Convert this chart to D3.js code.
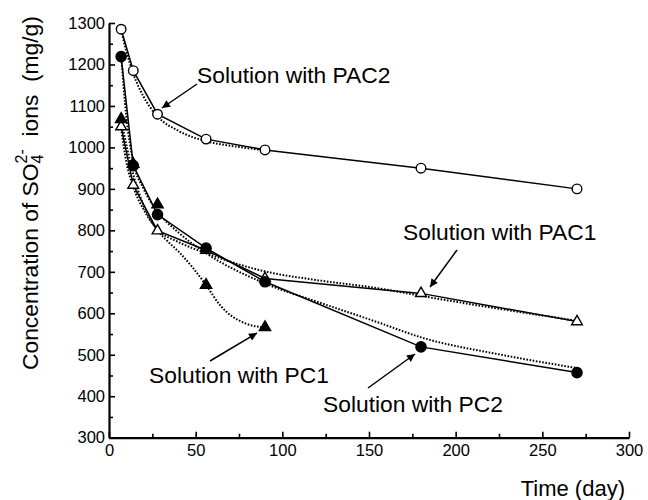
<!DOCTYPE html>
<html>
<head>
<meta charset="utf-8">
<script src="https://cdn.jsdelivr.net/npm/d3@7"></script>
<style>
  html, body { margin: 0; padding: 0; background: #fff; }
  svg { display: block; }
  text { font-family: "Liberation Sans", Arial, Helvetica, sans-serif; fill: #000; }
</style>
</head>
<body>
<svg id="chart" width="648" height="500"></svg>
<script>
// Sampling days
const days = [7, 14, 28, 56, 90, 180, 270];

// Measured SO4(2-) concentration (mg/g)
const pac2 = [1285, 1185, 1080, 1020, 994, 950, 900];
const pc2  = [1219, 956, 838, 757, 676, 519, 457];
const pac1 = [1050, 909, 799, 752, 684, 648, 580];
const pc1  = [1068, 960, 862, 668, 566];
const pc1Days = [7, 14, 28, 56, 90];

// Fitted trend curves (dotted), as [day, value]
const pac2Fit = [[7,1283],[10,1232],[14,1178],[20,1122],[28,1075],[40,1040],[56,1015],[75,1001],[90,993]];
const pc2Fit  = [[7,1222],[10,1075],[14,965],[20,900],[28,845],[40,795],[56,745],[90,672],[120,628],[156,577],[180,542],[225,501],[270,468]];
const pac1Fit = [[7,1046],[10,965],[14,905],[20,850],[28,802],[40,772],[56,745],[90,701],[120,680],[156,660],[180,642],[225,611],[270,582]];
const pc1Fit  = [[7,1068],[14,935],[20,860],[28,800],[33,777],[41,745],[56,668],[64,620],[79,575],[90,566]];

// Axis ticks
const xTicks = [0, 50, 100, 150, 200, 250, 300];
const xMinor = [25, 75, 125, 175, 225, 275];
const yTicks = [300, 400, 500, 600, 700, 800, 900, 1000, 1100, 1200, 1300];
const yMinor = [350, 450, 550, 650, 750, 850, 950, 1050, 1150, 1250];

// Callout labels
const labels = ["Solution with PAC2", "Solution with PAC1", "Solution with PC1", "Solution with PC2"];

const svg = d3.select("#chart");
const x = d3.scaleLinear().domain([0, 300]).range([109, 629]);
const y = d3.scaleLinear().domain([300, 1300]).range([437.7, 23]);
const fmt = d3.format("d");

// ---- axes ----
const xAxisG = svg.append("g").attr("transform", `translate(0,${y(300)})`)
  .call(d3.axisBottom(x).tickValues(xTicks).tickFormat(fmt).tickSizeInner(-6).tickSizeOuter(0).tickPadding(7));
const xMinorG = svg.append("g").attr("transform", `translate(0,${y(300)})`)
  .call(d3.axisBottom(x).tickValues(xMinor).tickSizeInner(-4).tickSizeOuter(0).tickFormat(""));
const yAxisG = svg.append("g").attr("transform", `translate(${x(0)},0)`)
  .call(d3.axisLeft(y).tickValues(yTicks).tickFormat(fmt).tickSizeInner(-6).tickSizeOuter(0).tickPadding(4));
const yMinorG = svg.append("g").attr("transform", `translate(${x(0)},0)`)
  .call(d3.axisLeft(y).tickValues(yMinor).tickSizeInner(-4).tickSizeOuter(0).tickFormat(""));

[xAxisG, yAxisG, xMinorG, yMinorG].forEach(g => {
  g.attr("font-family", null);
  g.select(".domain").attr("stroke", "#000").attr("stroke-width", 2.2);
  g.selectAll(".tick line").attr("stroke", "#000").attr("stroke-width", 1.6);
  g.selectAll(".tick text").attr("font-size", 16.5).attr("fill", "#000");
});
xMinorG.select(".domain").remove();
yMinorG.select(".domain").remove();

// ---- axis titles ----
svg.append("text").attr("x", 625).attr("y", 496).attr("text-anchor", "end")
  .attr("font-size", 22).text("Time (day)");

const yt = svg.append("text")
  .attr("transform", "translate(37.5,370) rotate(-90)")
  .attr("font-size", 22.8)
  .attr("xml:space", "preserve");
yt.append("tspan").text("Concentration of SO");
yt.append("tspan").attr("font-size", 16).attr("dy", 5).text("4");
yt.append("tspan").attr("font-size", 16).attr("dx", -8.9).attr("dy", -16).text("2-");
yt.append("tspan").attr("dy", 11).text("  ions  (mg/g)");

// ---- fitted curves (dotted) ----
const fitLine = d3.line().x(d => x(d[0])).y(d => y(d[1])).curve(d3.curveMonotoneX);
[pac2Fit, pc2Fit, pac1Fit, pc1Fit].forEach(f => {
  svg.append("path").attr("d", fitLine(f))
    .attr("fill", "none").attr("stroke", "#000")
    .attr("stroke-width", 2).attr("stroke-dasharray", "1.6,1.6");
});

// ---- measured series (solid lines) ----
const dataLine = d3.line().x(d => x(d[0])).y(d => y(d[1]));
const zip = (xs, ys) => xs.map((d, i) => [d, ys[i]]);
[pac2, pc2, pac1].forEach(vals => {
  svg.append("path").attr("d", dataLine(zip(days, vals)))
    .attr("fill", "none").attr("stroke", "#000").attr("stroke-width", 1.5);
});

// ---- markers ----
function markers(pts, type, size, filled) {
  svg.append("g").selectAll("path").data(pts).join("path")
    .attr("transform", d => `translate(${x(d[0])},${y(d[1])})`)
    .attr("d", d3.symbol().type(type).size(size))
    .attr("fill", filled ? "#000" : "#fff")
    .attr("stroke", "#000").attr("stroke-width", 1.4);
}
markers(zip(days, pac1), d3.symbolTriangle, 50, false);
markers(zip(pc1Days, pc1), d3.symbolTriangle, 55, true);
markers(zip(days, pac2), d3.symbolCircle, 72, false);
markers(zip(days, pc2), d3.symbolCircle, 82, true);

// ---- callouts ----
svg.append("defs").append("marker")
  .attr("id", "arrow").attr("viewBox", "0 0 10 10")
  .attr("refX", 10).attr("refY", 5)
  .attr("markerWidth", 9).attr("markerHeight", 8)
  .attr("markerUnits", "userSpaceOnUse")
  .attr("orient", "auto")
  .append("path").attr("d", "M0,0 L10,5 L0,10 Z").attr("fill", "#000");

const callouts = [
  { text: labels[0], tx: 197, ty: 83,  from: [197, 84],  to: [162, 108] },
  { text: labels[1], tx: 403, ty: 240, from: [457, 250], to: [430, 287] },
  { text: labels[2], tx: 149, ty: 383, from: [210, 361], to: [257, 333] },
  { text: labels[3], tx: 323, ty: 412, from: [368, 388], to: [415, 354] }
];
callouts.forEach(c => {
  svg.append("text").attr("x", c.tx).attr("y", c.ty).attr("font-size", 22.8).text(c.text);
  svg.append("line")
    .attr("x1", c.from[0]).attr("y1", c.from[1])
    .attr("x2", c.to[0]).attr("y2", c.to[1])
    .attr("stroke", "#000").attr("stroke-width", 1.5)
    .attr("marker-end", "url(#arrow)");
});
</script>
</body>
</html>
